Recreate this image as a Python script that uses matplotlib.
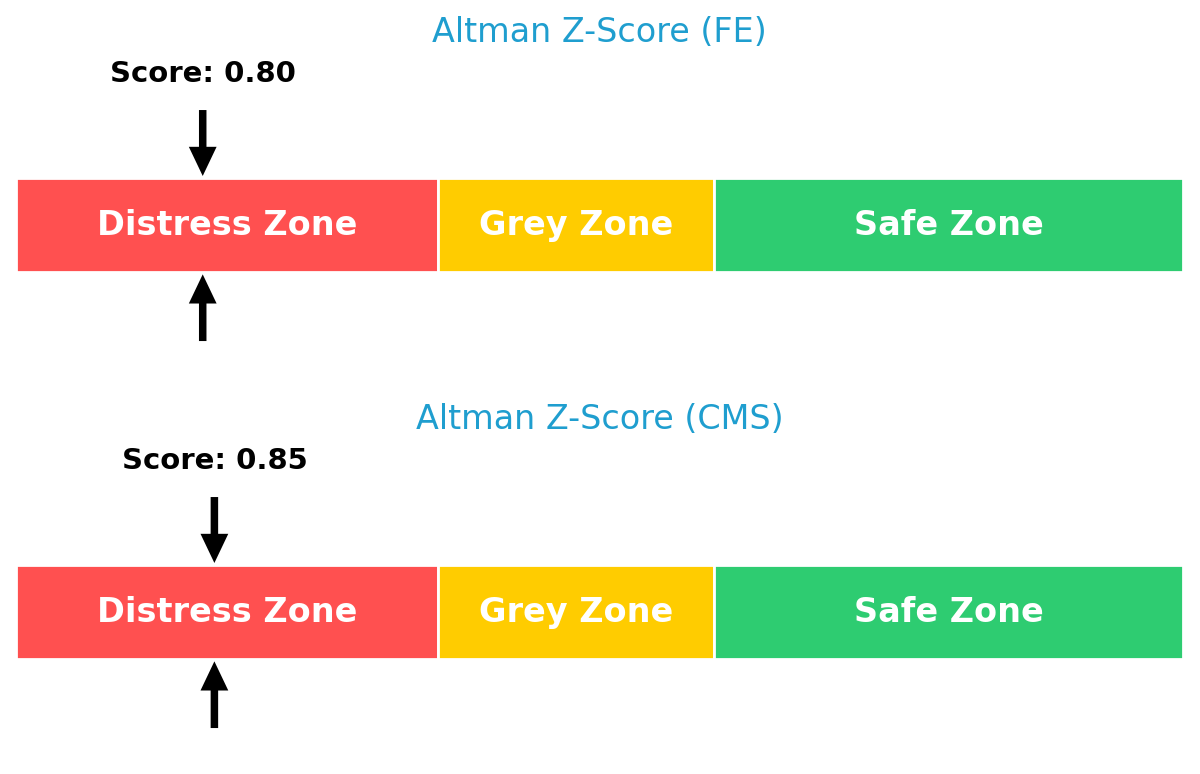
import matplotlib
matplotlib.use('Agg')
import matplotlib.pyplot as plt

# zone bounds (Altman Z-score)
zone_names = ['Distress Zone', 'Grey Zone', 'Safe Zone']
zone_starts = [0.0, 1.81, 2.99]
zone_ends = [1.81, 2.99, 5.0]
zone_colors = ['#ff5050', '#ffcc00', '#2ecc71']

companies = ['FE', 'CMS']
scores = [0.80, 0.85]

fig = plt.figure(figsize=(12, 7.74), dpi=100)

for i in range(2):
    # each panel takes half of the figure height
    ax = fig.add_axes([16/1200, 0.5 - i*0.5, 1167/1200, 0.5])
    for name, a, b, c in zip(zone_names, zone_starts, zone_ends, zone_colors):
        ax.barh(0, b - a, left=a, height=1.0, color=c, edgecolor='white', linewidth=2)
        ax.text((a + b)/2, -0.107, name, ha='center', va='baseline', color='white',
                fontsize=24.1, fontweight='bold')

    s = scores[i]
    arrow = dict(facecolor='black', edgecolor='black', lw=0, width=5.4,
                 headwidth=20, headlength=21, shrink=0)
    ax.annotate('', xy=(s, 0.525), xytext=(s, 1.231), arrowprops=arrow)
    ax.annotate('', xy=(s, -0.528), xytext=(s, -1.242), arrowprops=arrow)
    ax.text(s, 1.534, f'Score: {s:.2f}', ha='center', va='baseline',
            fontsize=20.95, fontweight='bold', color='black')
    ax.text(2.5, 1.959, f'Altman Z-Score ({companies[i]})', ha='center', va='baseline',
            fontsize=24.0, color='#1f9ecf')

    ax.set_xlim(0, 5)
    ax.set_ylim(-1.734, 2.409)
    ax.axis('off')

fig.savefig('out.png', dpi=100)
